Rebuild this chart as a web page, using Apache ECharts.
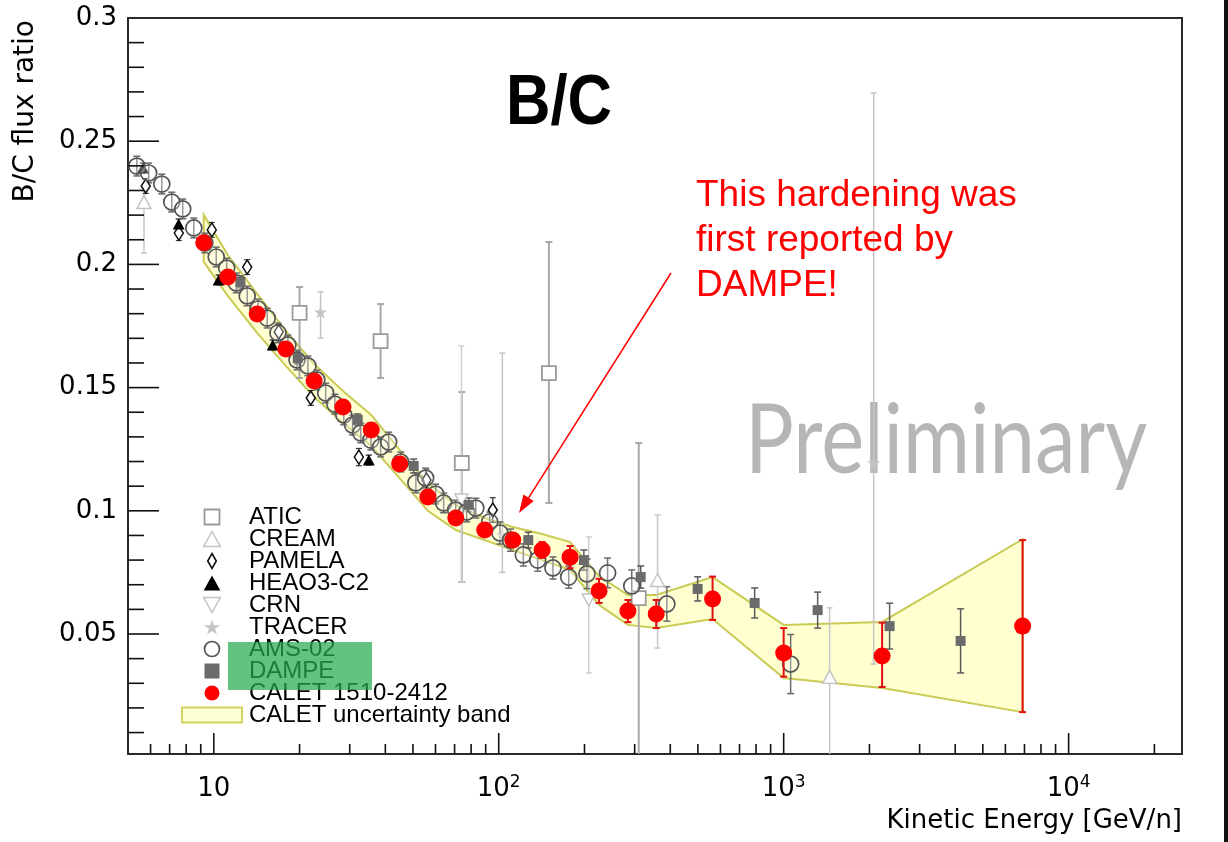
<!DOCTYPE html>
<html>
<head>
<meta charset="utf-8">
<script src="https://cdn.jsdelivr.net/npm/echarts@6/dist/echarts.min.js"></script>
<style>
  html, body { margin: 0; padding: 0; background: #fff; }
  #chart { width: 1228px; height: 842px; }
</style>
</head>
<body>
<div id="chart"></div>
<script>
// ---- axis ranges and tick values ----
const X_MIN = 5, X_MAX = 25000;
const Y_MIN = 0.0013, Y_MAX = 0.3;
const yLabelValues = [0.05, 0.1, 0.15, 0.2, 0.25, 0.3];
const xMajorTicks = [10, 100, 1000, 10000];
const xMinorTicks = [6, 7, 8, 9, 20, 30, 40, 50, 60, 70, 80, 90,
  200, 300, 400, 500, 600, 700, 800, 900,
  2000, 3000, 4000, 5000, 6000, 7000, 8000, 9000, 20000];
const yMajorTicks = [0.05, 0.1, 0.15, 0.2, 0.25];
const yMinorTicks = [0.01, 0.02, 0.03, 0.04, 0.06, 0.07, 0.08, 0.09,
  0.11, 0.12, 0.13, 0.14, 0.16, 0.17, 0.18, 0.19,
  0.21, 0.22, 0.23, 0.24, 0.26, 0.27, 0.28, 0.29];

// ---- B/C measurements: kinetic energy [GeV/n], ratio, error ----
const aticE = [20.0, 38.5, 74.2, 150, 310];
const aticV = [0.1803, 0.1689, 0.1194, 0.1559, 0.0646];
const aticUp = [0.0105, 0.0150, 0.0288, 0.0532, 0.0629];
const aticDown = [0.0264, 0.0150, 0.0483, 0.0527, 0.0646];

const creamE = [5.69, 361, 1450];
const creamV = [0.2253, 0.0719, 0.0326];
const creamUp = [0.0061, 0.0264, 0.0280];
const creamDown = [0.0207, 0.0276, 0.0326];

const pamelaE = [5.77, 7.54, 9.84, 13.1, 16.9, 21.9, 32.3, 55.8, 95.3];
const pamelaV = [0.2318, 0.2127, 0.2140, 0.1989, 0.1726, 0.1458, 0.1218, 0.1125, 0.1003];
const pamelaErr = [0.003, 0.003, 0.003, 0.003, 0.003, 0.003, 0.0035, 0.004, 0.005];

const heaoE = [5.64, 7.53, 10.4, 16.1, 35.0];
const heaoV = [0.2391, 0.2164, 0.1937, 0.1673, 0.1206];
const heaoErr = [0.002, 0.002, 0.002, 0.002, 0.002];

const crnE = [74.0, 207];
const crnV = [0.1044, 0.0638];
const crnUp = [0.0625, 0.0256];
const crnDown = [0.0333, 0.0296];

const tracerE = [23.7, 103, 2070];
const tracerV = [0.1807, 0.0902, 0.1194];
const tracerUp = [0.0081, 0.0738, 0.1502];
const tracerDown = [0.0106, 0.0152, 0.0816];

const amsE = [5.37, 5.91, 6.57, 7.12, 7.78, 8.51, 9.30, 10.2, 11.1, 12.0,
  13.1, 14.3, 15.4, 16.8, 18.2, 19.6, 21.4, 23.0, 24.7, 26.6,
  28.6, 30.7, 32.8, 35.6, 38.5, 41.1, 45.3, 51.2, 55.4, 60.1,
  64.1, 70.6, 77.2, 83.1, 93.0, 101, 110, 122, 137, 155,
  176, 204, 241, 293, 389, 1058];
const amsV = [0.2399, 0.2371, 0.2326, 0.2253, 0.2225, 0.2148, 0.2087, 0.2030, 0.1985, 0.1925,
  0.1872, 0.1819, 0.1782, 0.1722, 0.1673, 0.1612, 0.1588, 0.1531, 0.1478, 0.1433,
  0.1389, 0.1348, 0.1316, 0.1287, 0.1259, 0.1279, 0.1198, 0.1113, 0.1133, 0.1068,
  0.1032, 0.1003, 0.0995, 0.1011, 0.0955, 0.0910, 0.0881, 0.0821, 0.0800, 0.0768,
  0.0731, 0.0744, 0.0748, 0.0695, 0.0622, 0.0378];
const amsErr = [0.004, 0.004, 0.004, 0.004, 0.004, 0.004, 0.004, 0.004, 0.004, 0.004,
  0.004, 0.004, 0.004, 0.004, 0.004, 0.004, 0.004, 0.004, 0.004, 0.004,
  0.004, 0.004, 0.004, 0.004, 0.004, 0.004, 0.004, 0.004, 0.004, 0.004,
  0.004, 0.004, 0.004, 0.004, 0.004, 0.0045, 0.0045, 0.0045, 0.0045, 0.0045,
  0.0045, 0.006, 0.006, 0.0065, 0.007, 0.012];

const dampeE = [12.4, 19.7, 32.0, 50.3, 78.5, 127, 199, 315, 499, 791, 1316, 2354, 4178];
const dampeV = [0.1929, 0.1620, 0.1369, 0.1182, 0.1024, 0.0881, 0.0800, 0.0731, 0.0683, 0.0626, 0.0597, 0.0532, 0.0472];
const dampeErr = [0.0024, 0.0024, 0.0024, 0.0028, 0.0028, 0.0032, 0.0041, 0.0045, 0.0049, 0.0061, 0.0073, 0.0093, 0.013];

const caletE = [9.22, 11.2, 14.2, 17.9, 22.5, 28.4, 35.7, 44.9, 56.4, 70.7,
  89.3, 112, 142, 178, 225, 284, 357, 563, 1000, 2216, 6897];
const caletV = [0.2088, 0.1949, 0.1799, 0.1657, 0.1527, 0.1421, 0.1328, 0.1190, 0.1056, 0.0971,
  0.0922, 0.0881, 0.0841, 0.0812, 0.0675, 0.0593, 0.0581, 0.0642, 0.0423, 0.0411, 0.0532];
const caletUp = [0.0012, 0.0012, 0.0012, 0.0012, 0.0012, 0.0012, 0.0012, 0.0012, 0.0012, 0.0012,
  0.002, 0.0024, 0.0032, 0.0045, 0.0049, 0.0045, 0.0057, 0.0091, 0.0101, 0.0135, 0.0349];
const caletDown = [0.0012, 0.0012, 0.0012, 0.0012, 0.0012, 0.0012, 0.0012, 0.0012, 0.0012, 0.0012,
  0.002, 0.0024, 0.0032, 0.0045, 0.0049, 0.0045, 0.0057, 0.0085, 0.0096, 0.0126, 0.0349];
// CALET total uncertainty band (upper and lower edge at each CALET energy)
const bandHi = [0.2201, 0.2038, 0.1880, 0.1730, 0.1596, 0.1486, 0.1389, 0.1247, 0.1113, 0.1024,
  0.0971, 0.0934, 0.0906, 0.0873, 0.0735, 0.0658, 0.0658, 0.0731, 0.0537, 0.0549, 0.0885];
const bandLo = [0.2010, 0.1872, 0.1722, 0.1588, 0.1462, 0.1356, 0.1263, 0.1133, 0.1000, 0.0922,
  0.0881, 0.0841, 0.0800, 0.0760, 0.0618, 0.0537, 0.0524, 0.0561, 0.0321, 0.0281, 0.0183];

// ---- marker shapes ----
const SQUARE = 'path://M0,0H10V10H0Z';
const TRI_UP = 'path://M5,0L10,9L0,9Z';
const TRI_DOWN = 'path://M0,0L10,0L5,9Z';
const DIAMOND = 'path://M4,0L8,7L4,14L0,7Z';
const STAR = 'path://M10,0L12.4,7.2L20,7.2L13.8,11.7L16.2,19L10,14.5L3.8,19L6.2,11.7L0,7.2L7.6,7.2Z';
const BAND_ICON = 'path://M0,0H60V15H0Z';

const FONT = "'DejaVu Sans', 'Liberation Sans', sans-serif";
const LEGEND_FONT = "'Liberation Sans', Arial, sans-serif";

// ---- series builders ----
function points(name, E, V, symbol, size, itemStyle, z) {
  return {
    type: 'scatter', name: name, z: z, symbol: symbol, symbolSize: size,
    data: E.map((e, i) => [e, V[i]]),
    itemStyle: Object.assign({ opacity: 1 }, itemStyle), silent: true
  };
}

function errorBars(name, E, V, down, up, color, width, cap, z) {
  return {
    type: 'custom', name: name, z: z, silent: true,
    data: E.map((e, i) => [e, V[i] - down[i], V[i] + up[i]]),
    encode: { x: 0, y: [1, 2] },
    renderItem: function (params, api) {
      const loV = api.value(1), hiV = api.value(2);
      const lo = api.coord([api.value(0), Math.max(loV, Y_MIN)]);
      const hi = api.coord([api.value(0), Math.min(hiV, Y_MAX)]);
      const x = lo[0];
      const st = { stroke: color, lineWidth: width };
      const kids = [{ type: 'line', shape: { x1: x, y1: lo[1], x2: x, y2: hi[1] }, style: st }];
      if (hiV <= Y_MAX) kids.push({ type: 'line', shape: { x1: x - cap, y1: hi[1], x2: x + cap, y2: hi[1] }, style: st });
      if (loV >= Y_MIN) kids.push({ type: 'line', shape: { x1: x - cap, y1: lo[1], x2: x + cap, y2: lo[1] }, style: st });
      return { type: 'group', children: kids };
    }
  };
}

function tickSeries(name, data, horizontal) {
  return {
    type: 'custom', name: name, z: 20, silent: true,
    data: data, encode: { x: 0, y: 1 },
    renderItem: function (params, api) {
      const p = api.coord([api.value(0), api.value(1)]);
      const len = api.value(2);
      const shape = horizontal
        ? { x1: p[0], y1: p[1], x2: p[0] + len, y2: p[1] }
        : { x1: p[0], y1: p[1], x2: p[0], y2: p[1] - len };
      return { type: 'line', shape: shape, style: { stroke: '#111', lineWidth: 1.6 } };
    }
  };
}

const bandSeries = {
  type: 'custom', name: 'CALET uncertainty band', z: 1, silent: true,
  data: caletE.map((e, i) => [e, bandLo[i], bandHi[i]]),
  encode: { x: 0, y: [1, 2] },
  itemStyle: { color: '#ffffd4' },
  renderItem: function (params, api) {
    if (params.dataIndex !== 0) return null;
    const pts = [];
    for (let i = 0; i < caletE.length; i++) pts.push(api.coord([caletE[i], bandHi[i]]));
    for (let i = caletE.length - 1; i >= 0; i--) pts.push(api.coord([caletE[i], bandLo[i]]));
    return {
      type: 'polygon', shape: { points: pts },
      style: { fill: 'rgba(255,255,200,0.85)', stroke: '#c9cb55', lineWidth: 2 }
    };
  }
};

const xTickData = xMajorTicks.map(v => [v, Y_MIN, 21]).concat(xMinorTicks.map(v => [v, Y_MIN, 10]));
const yTickData = yMajorTicks.map(v => [X_MIN, v, 31]).concat(yMinorTicks.map(v => [X_MIN, v, 16]));

const series = [
  bandSeries,
  errorBars('ATIC err', aticE, aticV, aticDown, aticUp, '#a8a8a8', 2, 3.5, 2),
  errorBars('CREAM err', creamE, creamV, creamDown, creamUp, '#c8c8c8', 1.5, 3, 2),
  errorBars('CRN err', crnE, crnV, crnDown, crnUp, '#cfcfcf', 1.5, 3, 2),
  errorBars('TRACER err', tracerE, tracerV, tracerDown, tracerUp, '#c4c4c4', 1.5, 3, 2),
  errorBars('PAMELA err', pamelaE, pamelaV, pamelaErr, pamelaErr, '#333', 1.2, 3, 3),
  errorBars('HEAO3-C2 err', heaoE, heaoV, heaoErr, heaoErr, '#111', 1.2, 3, 3),
  errorBars('AMS-02 err', amsE, amsV, amsErr, amsErr, '#6a6a6a', 1.5, 3.5, 3),
  errorBars('DAMPE err', dampeE, dampeV, dampeErr, dampeErr, '#5a5a5a', 1.5, 3.5, 3),
  points('ATIC', aticE, aticV, SQUARE, 14, { color: '#fff', borderColor: '#9a9a9a', borderWidth: 1.8 }, 4),
  points('CREAM', creamE, creamV, TRI_UP, [14, 13], { color: '#fff', borderColor: '#c4c4c4', borderWidth: 1.5 }, 4),
  points('CRN', crnE, crnV, TRI_DOWN, [13, 12], { color: '#fff', borderColor: '#c4c4c4', borderWidth: 1.5 }, 4),
  points('TRACER', tracerE, tracerV, STAR, 13, { color: '#c4c4c4' }, 4),
  points('PAMELA', pamelaE, pamelaV, DIAMOND, [9, 14], { color: '#fff', borderColor: '#111', borderWidth: 1.6 }, 5),
  points('HEAO3-C2', heaoE, heaoV, TRI_UP, [12, 11], { color: '#000' }, 5),
  points('AMS-02', amsE, amsV, 'circle', 16, { color: 'rgba(255,255,255,0.3)', borderColor: '#555', borderWidth: 1.7 }, 5),
  points('DAMPE', dampeE, dampeV, SQUARE, 10, { color: '#6b6b6b' }, 6),
  errorBars('CALET err', caletE, caletV, caletDown, caletUp, '#e01010', 2, 3.5, 7),
  points('CALET 1510-2412', caletE, caletV, 'circle', 17, { color: '#ff0000' }, 8),
  tickSeries('x ticks', xTickData, false),
  tickSeries('y ticks', yTickData, true)
];

const option = {
  animation: false,
  backgroundColor: '#ffffff',
  grid: {
    left: 128, top: 18, right: 46, bottom: 88,
    show: true, borderColor: '#2a2a2a', borderWidth: 2, backgroundColor: '#ffffff'
  },
  xAxis: {
    type: 'log', logBase: 10, min: X_MIN, max: X_MAX,
    axisLine: { show: false }, axisTick: { show: false }, splitLine: { show: false },
    axisLabel: {
      showMinLabel: false, showMaxLabel: false, margin: 20,
      formatter: function (v) {
        const l = Math.log10(v), p = Math.round(l);
        if (Math.abs(l - p) > 1e-6) return '';
        return p === 1 ? '{b|10}' : '{b|10}{s|' + p + '}';
      },
      rich: {
        b: { fontFamily: FONT, fontSize: 26, color: '#000', lineHeight: 30 },
        s: { fontFamily: FONT, fontSize: 17, color: '#000', verticalAlign: 'top', lineHeight: 18 }
      }
    }
  },
  yAxis: {
    type: 'value', min: Y_MIN, max: Y_MAX,
    axisLine: { show: false }, axisTick: { show: false }, splitLine: { show: false },
    axisLabel: {
      customValues: yLabelValues, margin: 11,
      fontFamily: FONT, fontSize: 26, color: '#000',
      formatter: v => String(Math.round(v * 100) / 100)
    }
  },
  legend: {
    orient: 'vertical', left: 176, top: 500,
    itemWidth: 60, itemHeight: 15, itemGap: -2, selectedMode: false,
    textStyle: { fontFamily: LEGEND_FONT, fontSize: 24, color: '#000', padding: [0, 0, 0, 2] },
    data: [
      { name: 'ATIC', icon: SQUARE, itemStyle: { color: '#fff', borderColor: '#9a9a9a', borderWidth: 1.8 } },
      { name: 'CREAM', icon: TRI_UP, itemStyle: { color: '#fff', borderColor: '#c4c4c4', borderWidth: 1.5 } },
      { name: 'PAMELA', icon: DIAMOND, itemStyle: { color: '#fff', borderColor: '#111', borderWidth: 1.6 } },
      { name: 'HEAO3-C2', icon: TRI_UP, itemStyle: { color: '#000', borderWidth: 0 } },
      { name: 'CRN', icon: TRI_DOWN, itemStyle: { color: '#fff', borderColor: '#c4c4c4', borderWidth: 1.5 } },
      { name: 'TRACER', icon: STAR, itemStyle: { color: '#c4c4c4', borderWidth: 0 } },
      { name: 'AMS-02', icon: 'circle', itemStyle: { color: '#fff', borderColor: '#555', borderWidth: 1.7 } },
      { name: 'DAMPE', icon: SQUARE, itemStyle: { color: '#6b6b6b', borderWidth: 0 } },
      { name: 'CALET 1510-2412', icon: 'circle', itemStyle: { color: '#ff0000', borderWidth: 0 } },
      { name: 'CALET uncertainty band', icon: BAND_ICON, itemStyle: { color: '#ffffd4', borderColor: '#d2d460', borderWidth: 2 } }
    ]
  },
  graphic: [
    { type: 'text', x: 559, y: 105, z: 50,
      style: { text: 'B/C', fontFamily: "'Liberation Sans', sans-serif", fontWeight: 'bold', fontSize: 70,
        fill: '#000', align: 'center', verticalAlign: 'middle' }, scaleX: 0.88 },
    { type: 'text', x: 745, y: 442, z: 0,
      style: { text: 'Preliminary', fontFamily: "Lato, 'DejaVu Sans', sans-serif", fontSize: 97,
        fill: '#b6b6b6', align: 'left', verticalAlign: 'middle' }, scaleX: 0.84 },
    { type: 'text', x: 26, y: 20, rotation: Math.PI / 2, z: 50,
      style: { text: 'B/C flux ratio', fontFamily: FONT, fontSize: 28, fill: '#000',
        align: 'right', verticalAlign: 'middle' } },
    { type: 'text', x: 1182, y: 821, z: 50,
      style: { text: 'Kinetic Energy [GeV/n]', fontFamily: FONT, fontSize: 26, fill: '#000',
        align: 'right', verticalAlign: 'middle' } },
    { type: 'text', x: 696, y: 173, z: 60,
      style: { text: 'This hardening was\nfirst reported by\nDAMPE!', fontFamily: "'Liberation Sans', Arial, sans-serif",
        fontSize: 37, lineHeight: 45, fill: '#ff0000', align: 'left', verticalAlign: 'top' } },
    { type: 'line', z: 60, shape: { x1: 671, y1: 273, x2: 528.6, y2: 497.8 },
      style: { stroke: '#ff0000', lineWidth: 1.5 } },
    { type: 'polygon', z: 60, shape: { points: [[519, 513], [533.7, 501.0], [523.5, 494.6]] },
      style: { fill: '#ff0000' } },
    { type: 'rect', z: 70, shape: { x: 228, y: 642, width: 144, height: 48 },
      style: { fill: 'rgba(40,170,80,0.72)' } },
    { type: 'rect', z: 70, shape: { x: 1224, y: 0, width: 4, height: 842 },
      style: { fill: '#111' } }
  ],
  series: series
};

const chart = echarts.init(document.getElementById('chart'), null, { renderer: 'canvas' });
chart.setOption(option);
</script>
</body>
</html>
